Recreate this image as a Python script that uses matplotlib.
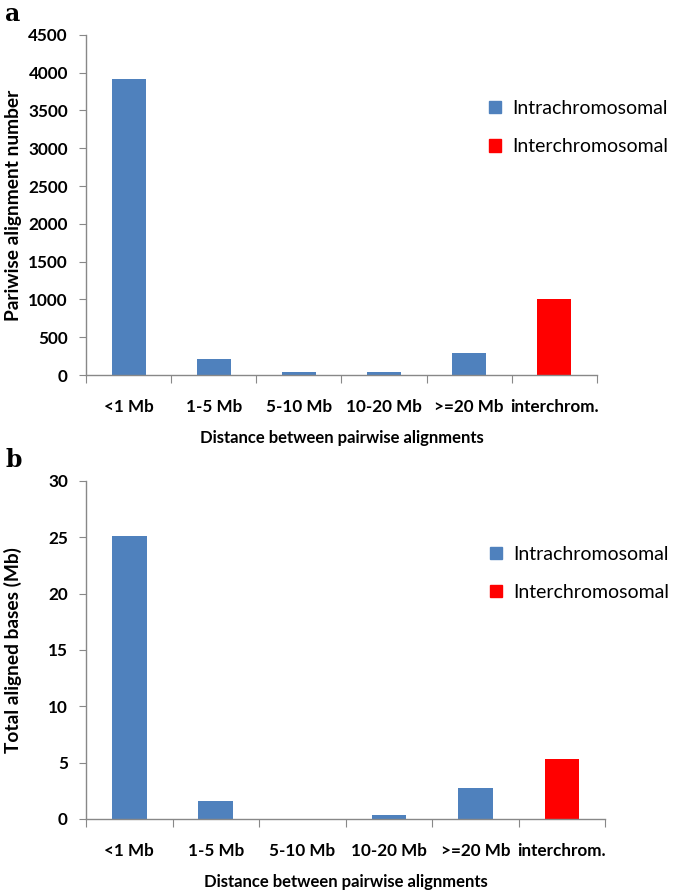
import matplotlib
matplotlib.use("Agg")
import matplotlib.pyplot as plt
from matplotlib.patches import Patch
import numpy as np

categories = ["<1 Mb", "1-5 Mb", "5-10 Mb", "10-20 Mb", ">=20 Mb", "interchrom."]
counts = [3910, 215, 45, 45, 290, 1000]
bases_mb = [25.1, 1.6, 0.0, 0.38, 2.78, 5.3]
is_inter = [False, False, False, False, False, True]

BLUE = "#4F81BD"
RED = "#FF0000"
GREY = "#888888"
FONT = "Lato"

fig = plt.figure(figsize=(6.85, 8.93), dpi=100)

def panel(rect, values, ymax, ystep, ylabel, letter, letter_y, leg_x, ylab_x):
    ax = fig.add_axes(rect)
    x = np.arange(len(categories))
    colors = [RED if f else BLUE for f in is_inter]
    ax.bar(x, values, width=0.4, color=colors, zorder=2)
    ax.set_xlim(-0.5, len(categories) - 0.5)
    ax.set_ylim(0, ymax)
    ax.set_yticks(np.arange(0, ymax + ystep / 2, ystep))
    for lab in ax.get_yticklabels():
        lab.set_fontfamily(FONT); lab.set_fontweight("bold"); lab.set_fontsize(12.3)
    ax.set_xticks(np.arange(-0.5, len(categories)), labels=[""] * (len(categories) + 1))
    ax.set_xticks(x, labels=categories, minor=True)
    ax.tick_params(axis="x", which="major", length=6, color=GREY, direction="out")
    ax.tick_params(axis="x", which="minor", length=0, pad=17)
    ax.tick_params(axis="y", length=5, color=GREY, direction="out", pad=8)
    for lab in ax.get_xticklabels(minor=True):
        lab.set_fontfamily(FONT); lab.set_fontweight("bold"); lab.set_fontsize(12.3)
    for s in ["top", "right"]:
        ax.spines[s].set_visible(False)
    for s in ["left", "bottom"]:
        ax.spines[s].set_color(GREY)
        ax.spines[s].set_linewidth(1.0)
    ax.set_ylabel(ylabel, fontfamily=FONT, fontweight="bold", fontsize=13.8)
    ax.yaxis.set_label_coords(ylab_x, 0.5)
    ax.set_xlabel("Distance between pairwise alignments", fontfamily=FONT,
                  fontweight="bold", fontsize=12, labelpad=11)
    handles = [Patch(color=BLUE, label="Intrachromosomal"),
               Patch(color=RED, label="Interchromosomal")]
    ax.legend(handles=handles, loc="upper left", bbox_to_anchor=(leg_x, 0.86),
              frameon=False, prop={"family": FONT, "size": 14},
              handlelength=0.6, handleheight=0.6, handletextpad=0.6, labelspacing=1.1)
    fig.text(0.008, letter_y, letter, fontfamily="DejaVu Serif", fontweight="bold",
             fontsize=17, va="top")
    return ax

panel([0.1255, 0.580, 0.746, 0.381], counts, 4500, 500,
      "Pariwise alignment number", "a", 0.998, 0.755, -0.125)
panel([0.1255, 0.0829, 0.758, 0.3785], bases_mb, 30, 5,
      "Total aligned bases (Mb)", "b", 0.498, 0.745, -0.123)

fig.savefig("out.png", dpi=100)
